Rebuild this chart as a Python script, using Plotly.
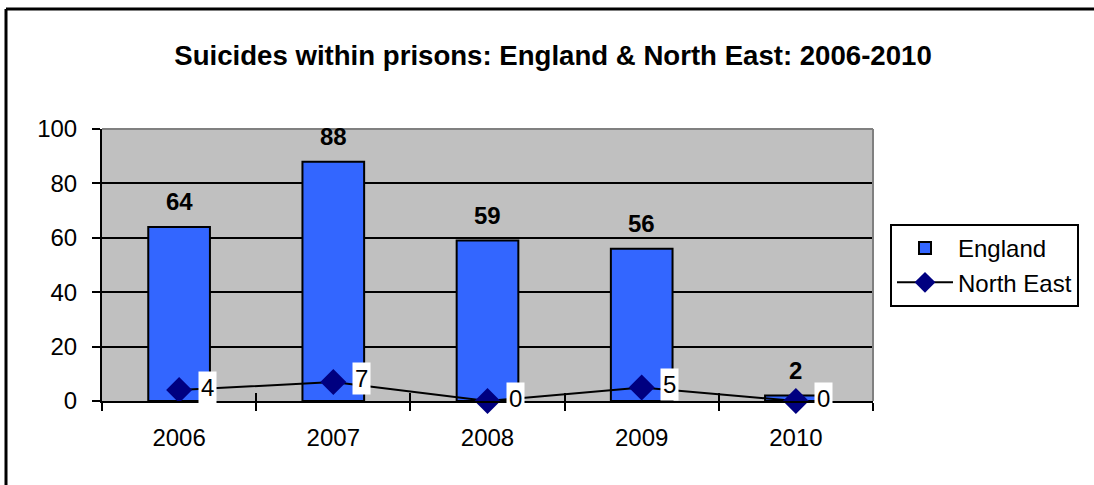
import plotly.graph_objects as go

# Chart data
years = [2006, 2007, 2008, 2009, 2010]
england = [64, 88, 59, 56, 2]
north_east = [4, 7, 0, 5, 0]
y_ticks = [0, 20, 40, 60, 80, 100]
title_text = "Suicides within prisons: England & North East: 2006-2010"

FONT = "Arial, Liberation Sans, sans-serif"
W, H = 1094, 485
ML, MR, MT, MB = 102, 221, 129, 84
PW, PH = W - ML - MR, H - MT - MB

# category boundaries, where the axis ticks sit
bounds = [y - 0.5 for y in years] + [years[-1] + 0.5]


def px_to_paper_x(px):
    return (px - ML) / PW


def px_to_paper_y(py):
    return (H - MB - py) / PH


fig = go.Figure()

fig.add_trace(go.Bar(
    x=years, y=england, name="England",
    marker=dict(color="#3366FF", line=dict(color="black", width=2)),
    xaxis="x", yaxis="y",
))

fig.add_trace(go.Scatter(
    x=years, y=north_east, name="North East", mode="lines+markers",
    line=dict(color="black", width=2),
    marker=dict(symbol="diamond", size=20, color="#000080", line=dict(width=0)),
    xaxis="x2", yaxis="y", cliponaxis=False,
))

annotations = []
# bold value labels above the bars
for yr, v in zip(years, england):
    annotations.append(dict(
        x=yr, y=v, xref="x", yref="y", text=f"<b>{v}</b>", showarrow=False,
        yanchor="middle", yshift=25, font=dict(family=FONT, size=24, color="black"),
    ))
# boxed value labels beside the line markers
for yr, v in zip(years, north_east):
    annotations.append(dict(
        x=yr, y=v, xref="x", yref="y", text=str(v), showarrow=False,
        xanchor="center", yanchor="middle", xshift=28, yshift=3,
        bgcolor="white", borderpad=2,
        font=dict(family=FONT, size=24, color="black"),
    ))

shapes = [
    # grey frame on top and right of plot area
    dict(type="line", xref="paper", yref="paper", x0=0, x1=1, y0=1, y1=1,
         line=dict(color="#808080", width=2), layer="above"),
    dict(type="line", xref="paper", yref="paper", x0=1, x1=1, y0=0, y1=1,
         line=dict(color="#808080", width=2), layer="above"),
    # outer chart border (right and bottom edges run past the page)
    dict(type="line", xref="paper", yref="paper",
         x0=px_to_paper_x(6), x1=px_to_paper_x(1200),
         y0=px_to_paper_y(9), y1=px_to_paper_y(9),
         line=dict(color="black", width=3)),
    dict(type="line", xref="paper", yref="paper",
         x0=px_to_paper_x(6), x1=px_to_paper_x(6),
         y0=px_to_paper_y(9), y1=px_to_paper_y(600),
         line=dict(color="black", width=3)),
]

fig.update_layout(
    width=W, height=H,
    margin=dict(l=ML, r=MR, t=MT, b=MB, pad=0),
    paper_bgcolor="white", plot_bgcolor="#C0C0C0",
    font=dict(family=FONT, size=24, color="black"),
    title=dict(text=f"<b>{title_text}</b>", x=553 / W, xref="container",
               xanchor="center", y=1 - 55 / H, yref="container", yanchor="middle",
               font=dict(family=FONT, size=27.6, color="black")),
    bargap=0.6,
    showlegend=True,
    legend=dict(x=px_to_paper_x(890), y=px_to_paper_y(224), xanchor="left", yanchor="top",
                bgcolor="white", bordercolor="black", borderwidth=2,
                font=dict(family=FONT, size=24, color="black"),
                itemwidth=56, tracegroupgap=0),
    xaxis=dict(
        range=[bounds[0], bounds[-1]], tickmode="array", tickvals=years,
        ticktext=[str(y) for y in years], ticks="", showgrid=False, zeroline=False,
        showline=True, linecolor="black", linewidth=2, ticklabelstandoff=14,
        minor=dict(tickmode="array", tickvals=bounds, ticks="outside", ticklen=8,
                   tickwidth=2, tickcolor="black", showgrid=False),
        tickfont=dict(family=FONT, size=24, color="black"),
    ),
    xaxis2=dict(
        overlaying="x", matches="x", anchor="y", side="bottom",
        range=[bounds[0], bounds[-1]], tickmode="array", tickvals=bounds,
        ticks="inside", ticklen=8, tickwidth=2, tickcolor="black",
        showticklabels=False, showgrid=False, zeroline=False, showline=False,
    ),
    yaxis=dict(
        range=[0, 100], tickmode="array", tickvals=y_ticks, ticks="outside",
        ticklen=8, tickwidth=2, tickcolor="black", showline=True, linecolor="black",
        linewidth=2, showgrid=True, gridcolor="black", gridwidth=2, zeroline=False,
        ticklabelstandoff=10, tickfont=dict(family=FONT, size=24, color="black"),
    ),
    annotations=annotations,
    shapes=shapes,
)

fig.write_html("out.html", config={"displayModeBar": False})
